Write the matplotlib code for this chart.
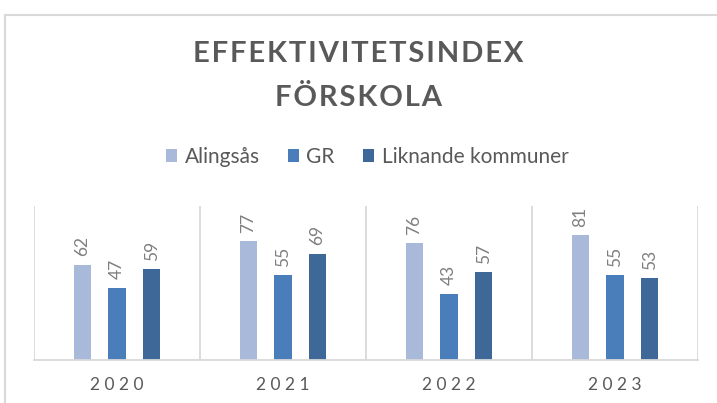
import matplotlib.pyplot as plt
import numpy as np
from matplotlib.patches import Patch
from matplotlib.lines import Line2D

years = ['2020', '2021', '2022', '2023']
series = ['Alingsås', 'GR', 'Liknande kommuner']
alingsas = [62, 77, 76, 81]
gr = [47, 55, 43, 55]
liknande = [59, 69, 57, 53]
colors = ['#a9b9d9', '#4a7ebb', '#3d6898']

plt.rcParams['font.family'] = ['Lato', 'DejaVu Sans']

fig = plt.figure(figsize=(7.17, 4.03), dpi=100)
ax = fig.add_axes([34 / 717, 43 / 403, 664 / 717, 154 / 403])

x = np.arange(len(years))
width = 0.105
offsets = [-0.208, 0, 0.208]
for vals, off, col in zip([alingsas, gr, liknande], offsets, colors):
    bars = ax.bar(x + off, vals, width, color=col, zorder=2)
    for b, v in zip(bars, vals):
        ax.annotate(str(v), (b.get_x() + b.get_width() / 2, v),
                    xytext=(0, 6), textcoords='offset points',
                    ha='center', va='bottom', rotation=90,
                    fontsize=12.5, color='#7f7f7f')

ax.set_xlim(-0.5, 3.5)
ax.set_ylim(0, 100)
grid_col = '#d9d9d9'
for sep in np.arange(-0.5, 4, 1):
    ax.axvline(sep, color=grid_col, lw=1.3, zorder=1)
for s in ['top', 'right', 'left']:
    ax.spines[s].set_visible(False)
ax.spines['bottom'].set_color(grid_col)
ax.spines['bottom'].set_linewidth(1.3)
ax.set_yticks([])
ax.set_xticks(x)
ax.set_xticklabels([' '.join(y) for y in years], fontsize=12.5, color='#595959')
ax.tick_params(axis='x', length=0, pad=12)

# titel
sp = '\u200a'
fig.text(0.5, 1 - 54 / 403, sp.join('EFFEKTIVITETSINDEX'), ha='center', va='center',
         fontsize=21, fontweight='bold', color='#595959')
fig.text(0.5, 1 - 98 / 403, sp.join('FÖRSKOLA'), ha='center', va='center',
         fontsize=21, fontweight='bold', color='#595959')

handles = [Patch(facecolor=c, edgecolor='none') for c in colors]
fig.legend(handles, series, loc='center', bbox_to_anchor=(0.512, 1 - 157 / 403),
           ncol=3, frameon=False, fontsize=15, handlelength=0.55, handleheight=0.55,
           handletextpad=0.35, columnspacing=1.35, labelcolor='#595959')

# ram
fig.add_artist(Line2D([5 / 717, 1], [1 - 15 / 403, 1 - 15 / 403], color='#d9d9d9', lw=1.5))
fig.add_artist(Line2D([5 / 717, 5 / 717], [0, 1 - 15 / 403], color='#d9d9d9', lw=1.5))

fig.savefig('out.png', dpi=100)
